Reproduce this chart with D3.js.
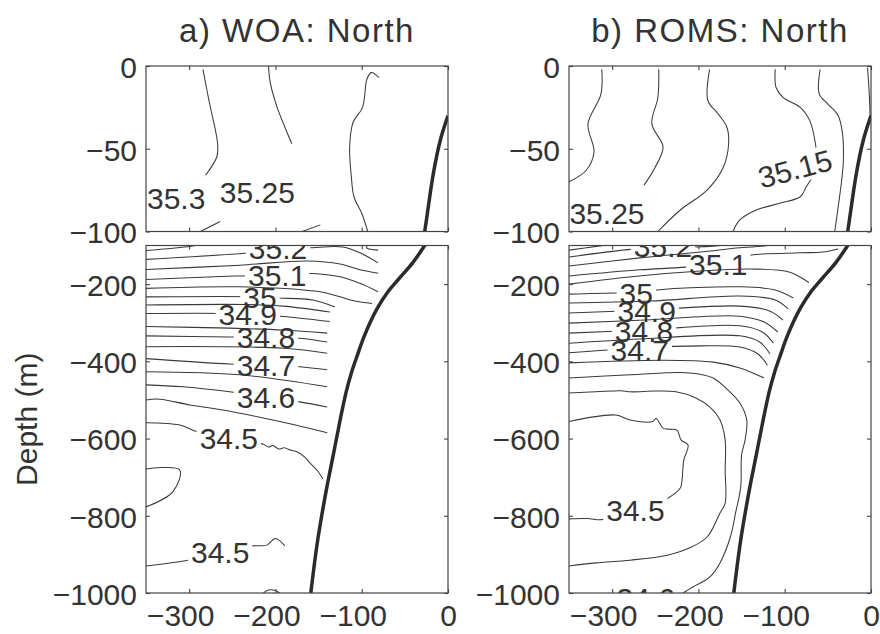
<!DOCTYPE html>
<html>
<head>
<meta charset="utf-8">
<script src="https://cdn.jsdelivr.net/npm/d3@7"></script>
<style>
  body { margin: 0; background: #fff; }
  svg { display: block; }
  text { font-family: "Liberation Sans", Arial, Helvetica, sans-serif; fill: #333; }
</style>
</head>
<body>
<svg id="chart" width="880" height="634"></svg>
<script>
// ---- axes ----
const xDomain = [-350, 0];
const xTickValues = [-300, -200, -100, 0];
const upperDomain = [0, -100];
const lowerDomain = [-100, -1000];
const upperTickValues = [0, -50, -100];
const lowerTickValues = [-200, -400, -600, -800, -1000];
const panelTitles = ["a) WOA: North", "b) ROMS: North"];
const depthLabel = "Depth (m)";

// ---- shelf bottom (distance, depth) ----
const bathymetry = [[0,-30],[-9,-45],[-17,-65],[-27,-100],[-41,-145],[-56,-184],[-70,-221],[-81,-259],
  [-90,-298],[-98,-340],[-105,-384],[-112,-430],[-118,-479],[-125,-552],[-133,-643],[-141,-733],
  [-151,-863],[-159,-1000]];

// ---- WOA salinity contours ----
const woaUpper = [
  {level: 35.3,  points: [[-284,-2],[-277,-21],[-267,-47],[-268,-55],[-281,-66]]},
  {level: 35.3,  points: [[-264,-94],[-287,-100]]},
  {level: 35.25, points: [[-208,0],[-206,-10],[-198,-25],[-189,-37],[-181,-47]]},
  {level: 35.25, points: [[-148,-96],[-169,-100]]},
  {level: 35.2,  points: [[-80,-7],[-89,-4],[-94,-8],[-99,-25],[-110,-34],[-114,-49],[-112,-67],[-109,-79],[-100,-89],[-93,-100]]}
];
const woaUpperLabels = [
  {level: 35.3, x: -315, depth: -80},
  {level: 35.25, x: -221, depth: -76}
];
const woaLower = [
  {level: 35.25, points: [[-350,-113],[-302,-103],[-293,-100]]},
  {level: 35.2,  points: [[-94,-100],[-94,-107],[-81,-112]]},
  {level: 35.2,  points: [[-350,-136],[-235,-120],[-197,-112],[-160,-106],[-137,-103],[-122,-104],[-102,-119],[-81,-145]]},
  {level: 35.15, points: [[-350,-162],[-241,-151],[-163,-140],[-125,-148],[-102,-163],[-81,-172]]},
  {level: 35.1,  points: [[-350,-188],[-247,-179],[-198,-176],[-163,-172],[-125,-181],[-102,-198],[-81,-220]]},
  {level: 35.05, points: [[-350,-211],[-241,-207],[-148,-220],[-125,-233],[-108,-244],[-88,-250]]},
  {level: 35,    points: [[-350,-233],[-218,-233],[-197,-236],[-157,-241],[-131,-259]]},
  {level: 34.95, points: [[-350,-254],[-230,-253],[-191,-257],[-137,-272]]},
  {level: 34.9,  points: [[-350,-276],[-232,-277],[-191,-284],[-137,-297]]},
  {level: 34.85, points: [[-350,-310],[-253,-314],[-191,-319],[-140,-327]]},
  {level: 34.8,  points: [[-350,-334],[-253,-337],[-211,-338],[-172,-340],[-140,-350]]},
  {level: 34.75, points: [[-350,-362],[-191,-366],[-140,-379]]},
  {level: 34.7,  points: [[-350,-393],[-253,-407],[-211,-410],[-172,-414],[-140,-422]]},
  {level: 34.65, points: [[-350,-427],[-241,-435],[-140,-466]]},
  {level: 34.6,  points: [[-350,-461],[-307,-466],[-253,-479],[-211,-492],[-172,-505],[-140,-518]]},
  {level: 34.55, points: [[-350,-500],[-334,-498],[-299,-513],[-261,-526],[-203,-552],[-140,-585]]},
  {level: 34.5,  points: [[-350,-559],[-311,-565],[-291,-582],[-253,-600],[-214,-615],[-208,-622],[-203,-618],[-196,-627],
                          [-190,-624],[-182,-630],[-175,-634],[-166,-648],[-160,-663],[-151,-684],[-145,-705]]},
  {level: 34.5,  points: [[-350,-679],[-311,-681],[-319,-738],[-350,-777]]},
  {level: 34.5,  points: [[-350,-930],[-303,-916],[-264,-896],[-226,-878],[-210,-876],[-200,-859],[-189,-878]]},
  {level: 34.5,  points: [[-214,-1000],[-208,-992],[-201,-993],[-195,-1000]]}
];
const woaLowerLabels = [
  {level: 35.2, x: -197, depth: -106},
  {level: 35.1, x: -198, depth: -178},
  {level: 35,   x: -218, depth: -234},
  {level: 34.9, x: -232, depth: -277},
  {level: 34.8, x: -211, depth: -338},
  {level: 34.7, x: -211, depth: -410},
  {level: 34.6, x: -211, depth: -492},
  {level: 34.5, x: -254, depth: -599},
  {level: 34.5, x: -264, depth: -895}
];

// ---- ROMS salinity contours ----
const romsUpper = [
  {level: 35.3,  points: [[-312,-2],[-313,-17],[-328,-35],[-321,-52],[-330,-63],[-350,-70]]},
  {level: 35.25, points: [[-246,-2],[-247,-19],[-254,-35],[-241,-49],[-250,-61],[-263,-72]]},
  {level: 35.2,  points: [[-187,-2],[-189,-21],[-177,-29],[-167,-37],[-165,-47],[-171,-61],[-190,-75],[-221,-87],[-247,-100]]},
  {level: 35.15, points: [[-111,-2],[-110,-13],[-102,-19],[-82,-25],[-71,-33],[-65,-45],[-63,-57],[-67,-66],[-75,-73],
                          [-82,-79],[-106,-83],[-133,-87],[-152,-93],[-160,-100]]},
  {level: 35.1,  points: [[-59,-2],[-60,-17],[-50,-23],[-38,-30],[-33,-41],[-32,-57],[-34,-69],[-38,-85],[-42,-100]]},
  {level: 35.05, points: [[-4,-1],[-2,-17],[-1,-31]]}
];
const romsUpperLabels = [
  {level: 35.25, x: -306, depth: -89},
  {level: 35.15, x: -88, depth: -62, angle: -15}
];
const romsLower = [
  {level: 35.25, points: [[-350,-112],[-314,-101],[-311,-100]]},
  {level: 35.2,  points: [[-350,-130],[-279,-110],[-241,-106],[-204,-104],[-180,-101],[-175,-100]]},
  {level: 35.15, points: [[-350,-153],[-268,-132],[-198,-117],[-152,-106],[-123,-101],[-118,-100]]},
  {level: 35.1,  points: [[-350,-179],[-268,-163],[-215,-156],[-177,-145],[-140,-125],[-82,-119],[-56,-117],[-38,-109]]},
  {level: 35.05, points: [[-350,-200],[-283,-182],[-198,-166],[-140,-161],[-94,-169],[-72,-196]]},
  {level: 35,    points: [[-350,-226],[-297,-223],[-272,-223],[-248,-215],[-152,-207],[-111,-215],[-90,-236]]},
  {level: 34.95, points: [[-350,-249],[-256,-244],[-152,-231],[-111,-241],[-96,-264]]},
  {level: 34.9,  points: [[-350,-275],[-260,-267],[-152,-257],[-117,-270],[-102,-293]]},
  {level: 34.85, points: [[-350,-301],[-262,-293],[-152,-283],[-124,-298],[-108,-324]]},
  {level: 34.8,  points: [[-350,-327],[-264,-319],[-152,-308],[-126,-324],[-113,-353]]},
  {level: 34.75, points: [[-350,-353],[-268,-342],[-152,-334],[-129,-350],[-117,-381]]},
  {level: 34.7,  points: [[-350,-378],[-272,-366],[-198,-360],[-152,-363],[-131,-381],[-120,-410]]},
  {level: 34.65, points: [[-350,-404],[-241,-397],[-183,-402],[-152,-417],[-124,-443]]},
  {level: 34.6,  points: [[-350,-443],[-279,-435],[-210,-430],[-183,-443],[-166,-474],[-152,-508],[-144,-552],[-146,-604],
                          [-150,-643],[-151,-725],[-157,-793],[-163,-855],[-175,-922],[-187,-959],[-206,-984],[-218,-1000]]},
  {level: 34.55, points: [[-350,-482],[-319,-479],[-290,-476],[-279,-479],[-250,-477],[-226,-479],[-203,-495],[-187,-518],
                          [-175,-552],[-169,-604],[-169,-681],[-169,-767],[-175,-793],[-190,-855],[-210,-883],[-236,-902],
                          [-279,-915],[-319,-922],[-350,-930]]},
  {level: 34.5,  points: [[-350,-556],[-296,-539],[-279,-552],[-253,-556],[-249,-548],[-241,-573],[-233,-576],[-225,-578],
                          [-220,-604],[-212,-617],[-217,-656],[-219,-707],[-221,-728],[-235,-754],[-260,-780],[-273,-785],
                          [-300,-800],[-312,-810],[-329,-807],[-350,-808]]}
];
const romsLowerLabels = [
  {level: 35.2, x: -241, depth: -101},
  {level: 35.1, x: -177, depth: -148},
  {level: 35,   x: -272, depth: -223},
  {level: 34.9, x: -260, depth: -270},
  {level: 34.8, x: -263, depth: -321},
  {level: 34.7, x: -268, depth: -370},
  {level: 34.5, x: -273, depth: -785},
  {level: 34.6, x: -261, depth: -1013}
];

// ---- layout ----
const W = 880, H = 634;
const panelLeft = [146, 569];
const panelWidth = 302;
const upperBox = [66, 231.5];
const lowerBox = [245.5, 593];
const FS = 30;
const ink = "#333";
const fmt = d3.format("d");

const svg = d3.select("#chart");
const defs = svg.append("defs");
let uid = 0;

function drawSubplot(p, part, contours, labels) {
  const left = panelLeft[p];
  const [top, bottom] = part === "upper" ? upperBox : lowerBox;
  const x = d3.scaleLinear().domain(xDomain).range([left, left + panelWidth]);
  const y = d3.scaleLinear().domain(part === "upper" ? upperDomain : lowerDomain).range([top, bottom]);

  const clipId = `clip-${p}-${part}`;
  defs.append("clipPath").attr("id", clipId).append("rect")
    .attr("x", left).attr("y", top).attr("width", panelWidth).attr("height", bottom - top);

  const g = svg.append("g");
  const plot = g.append("g").attr("clip-path", `url(#${clipId})`);
  const lineG = plot.append("g");
  const labelG = plot.append("g");

  const line = d3.line().x(d => x(d[0])).y(d => y(d[1])).curve(d3.curveCatmullRom.alpha(0.5));

  // contour labels, and the boxes that open a gap in their own contour
  const boxes = [];
  labels.forEach(lb => {
    const cx = x(lb.x), cy = y(lb.depth);
    const rot = lb.angle ? `rotate(${lb.angle},${cx},${cy})` : null;
    const t = labelG.append("text")
      .attr("x", cx).attr("y", cy + 0.36 * FS)
      .attr("text-anchor", "middle")
      .attr("font-size", FS)
      .attr("transform", rot)
      .text(String(lb.level));
    const w = t.node().getComputedTextLength();
    boxes.push({level: lb.level, x: cx - w / 2 - 3, y: cy - 0.36 * FS - 4, w: w + 6, h: 0.72 * FS + 8, rot});
  });

  contours.forEach(c => {
    const path = lineG.append("path")
      .attr("d", line(c.points))
      .attr("fill", "none")
      .attr("stroke", "#3a3a3a")
      .attr("stroke-width", 1.05)
      .attr("stroke-linejoin", "round");
    const own = boxes.filter(b => b.level === c.level);
    if (own.length) {
      const id = `gap-${uid++}`;
      const m = defs.append("mask").attr("id", id).attr("maskUnits", "userSpaceOnUse")
        .attr("x", 0).attr("y", 0).attr("width", W).attr("height", H);
      m.append("rect").attr("x", 0).attr("y", 0).attr("width", W).attr("height", H).attr("fill", "#fff");
      own.forEach(b => m.append("rect").attr("x", b.x).attr("y", b.y).attr("width", b.w).attr("height", b.h)
        .attr("transform", b.rot).attr("fill", "#000"));
      path.attr("mask", `url(#${id})`);
    }
  });

  // shelf bottom
  lineG.append("path")
    .attr("d", line(bathymetry))
    .attr("fill", "none")
    .attr("stroke", "#2b2b2b")
    .attr("stroke-width", 3.5);

  // frame and inward ticks on all sides
  const style = s => s.attr("font-size", FS).attr("font-family", null).attr("color", "#444")
    .call(a => a.select(".domain").remove())
    .call(a => a.selectAll(".tick line").attr("stroke-width", 1.1))
    .call(a => a.selectAll(".tick text").attr("fill", ink).attr("font-size", FS));

  const yTicks = part === "upper" ? upperTickValues : lowerTickValues;
  g.append("g").attr("transform", `translate(${left},0)`)
    .call(d3.axisLeft(y).tickValues(yTicks).tickFormat(fmt).tickSize(-4).tickPadding(9)).call(style)
    .call(a => a.selectAll(".tick text").attr("dy", "0.38em"));
  g.append("g").attr("transform", `translate(${left + panelWidth},0)`)
    .call(d3.axisRight(y).tickValues(yTicks).tickSize(-4).tickFormat("")).call(style);
  g.append("g").attr("transform", `translate(0,${top})`)
    .call(d3.axisTop(x).tickValues(xTickValues).tickSize(-4).tickFormat("")).call(style);
  const bottomAxis = d3.axisBottom(x).tickValues(xTickValues).tickSize(-4).tickPadding(12)
    .tickFormat(part === "upper" ? "" : fmt);
  g.append("g").attr("transform", `translate(0,${bottom})`).call(bottomAxis).call(style)
    .call(a => a.selectAll(".tick text").attr("dx", d => d < 0 ? "-0.3em" : null));

  g.append("rect")
    .attr("x", left).attr("y", top).attr("width", panelWidth).attr("height", bottom - top)
    .attr("fill", "none").attr("stroke", "#444").attr("stroke-width", 1.2);
}

drawSubplot(0, "upper", woaUpper, woaUpperLabels);
drawSubplot(0, "lower", woaLower, woaLowerLabels);
drawSubplot(1, "upper", romsUpper, romsUpperLabels);
drawSubplot(1, "lower", romsLower, romsLowerLabels);

// titles
panelTitles.forEach((t, i) => {
  svg.append("text")
    .attr("x", panelLeft[i] + panelWidth / 2)
    .attr("y", 42)
    .attr("text-anchor", "middle")
    .attr("font-size", 33)
    .attr("letter-spacing", 1.5)
    .text(t);
});

// depth axis title, centred on the deep-water axes
svg.append("text")
  .attr("transform", `translate(37,${(lowerBox[0] + lowerBox[1]) / 2}) rotate(-90)`)
  .attr("text-anchor", "middle")
  .attr("font-size", FS)
  .text(depthLabel);
</script>
</body>
</html>
